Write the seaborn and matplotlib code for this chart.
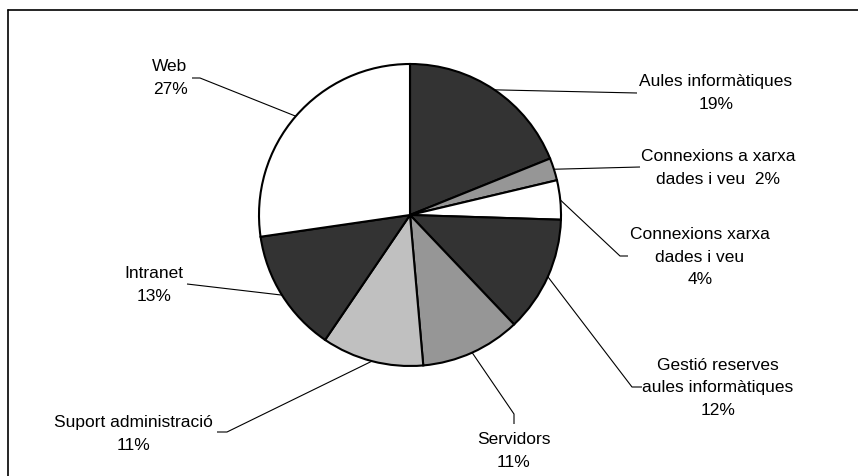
import numpy as np
import matplotlib
matplotlib.use("Agg")
import matplotlib.pyplot as plt
from matplotlib.lines import Line2D
import seaborn as sns

# ---- data ----
categories = ["Aules informàtiques", "Connexions a xarxa dades i veu", "Connexions xarxa dades i veu",
              "Gestió reserves aules informàtiques", "Servidors", "Suport administració",
              "Intranet", "Web"]
values = [18.9, 2.4, 4.2, 12.4, 10.7, 10.9, 13.2, 27.3]
label_names = ["Aules informàtiques\n", "Connexions a xarxa\ndades i veu  ", "Connexions xarxa\ndades i veu\n",
               "Gestió reserves\naules informàtiques\n", "Servidors\n", "Suport administració\n",
               "Intranet\n", "Web\n"]
colors = ["#333333", "#969696", "#FFFFFF", "#333333", "#969696", "#C0C0C0", "#333333", "#FFFFFF"]

# ---- layout (pixel coordinates, image y downward) ----
W, H = 858, 477
center_px = (410, 216)
radius_px = 151
label_pos = [(716, 93), (718, 168), (700, 257), (718, 388), (514, 451), (133, 434), (154, 285), (170, 78)]
leader_tail = [
    [(637, 94)],
    [(640, 168)],
    [(620, 257), (628, 257)],
    [(632, 388), (642, 388)],
    [(514, 415), (514, 425)],
    [(227, 433), (217, 433)],
    [(187, 285)],
    [(200, 79), (192, 79)],
]

sns.set_style("white")
plt.rcParams['font.family'] = ['Liberation Sans', 'DejaVu Sans']

fig = plt.figure(figsize=(W / 100, H / 100), dpi=100)
ax = fig.add_axes([0, 0, 1, 1])

cx, cy = center_px[0], H - center_px[1]
wedges, _ = ax.pie(values, colors=colors, startangle=90, counterclock=False,
                   center=(cx, cy), radius=radius_px, frame=True,
                   wedgeprops=dict(edgecolor="black", linewidth=1.5))
ax.set_xlim(0, W)
ax.set_ylim(0, H)
ax.set_aspect("equal")
ax.axis("off")

# labels and leader lines
cum = np.cumsum([0] + values)
total = sum(values)
for i, (name, v) in enumerate(zip(label_names, values)):
    mid = (cum[i] + v / 2) / total * 360.0  # degrees clockwise from top
    th = np.deg2rad(mid)
    sx = cx + radius_px * np.sin(th)
    sy = cy + radius_px * np.cos(th)
    xs = [sx] + [p[0] for p in leader_tail[i]]
    ys = [sy] + [H - p[1] for p in leader_tail[i]]
    ax.plot(xs, ys, color="black", linewidth=0.8, solid_capstyle="butt")
    lx, ly = label_pos[i]
    ax.text(lx, H - ly, f"{name}{round(v)}%", ha="center", va="center",
            multialignment="center", fontsize=12.5, linespacing=1.63, color="black")

# chart frame (top and left edges visible)
fig.add_artist(Line2D([8 / W, 1.0], [1 - 11 / H, 1 - 11 / H], transform=fig.transFigure,
                      color="black", linewidth=1.2))
fig.add_artist(Line2D([8 / W, 8 / W], [1 - 11 / H, 0.0], transform=fig.transFigure,
                      color="black", linewidth=1.2))

fig.savefig("out.png", dpi=100, facecolor="white")
